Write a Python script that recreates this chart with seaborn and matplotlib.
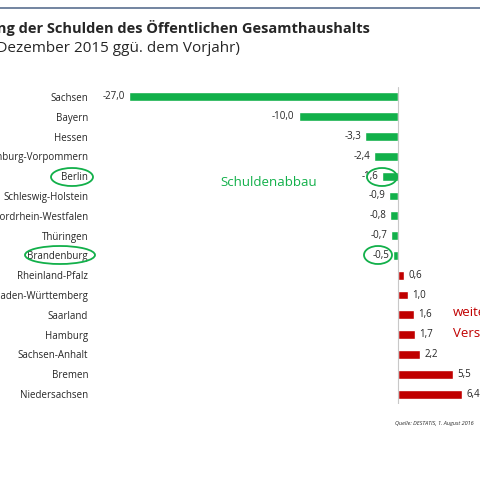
import matplotlib
matplotlib.use("Agg")
import matplotlib.pyplot as plt
from matplotlib.patches import Ellipse
import pandas as pd
import seaborn as sns

laender = ["Sachsen", "Bayern", "Hessen", "Mecklenburg-Vorpommern", "Berlin",
           "Schleswig-Holstein", "Nordrhein-Westfalen", "Thüringen", "Brandenburg",
           "Rheinland-Pfalz", "Baden-Württemberg", "Saarland", "Hamburg",
           "Sachsen-Anhalt", "Bremen", "Niedersachsen"]
werte = [-27.0, -10.0, -3.3, -2.4, -1.6, -0.9, -0.8, -0.7, -0.5,
         0.6, 1.0, 1.6, 1.7, 2.2, 5.5, 6.4]

GREEN = "#12b04a"
RED = "#c00000"

sns.set_style("white")
plt.rcParams["font.family"] = ["Open Sans", "DejaVu Sans"]

df = pd.DataFrame({"Land": laender, "Wert": werte})
farben = [GREEN if v < 0 else RED for v in werte]

fig = plt.figure(figsize=(4.8, 4.8), dpi=100)
ax = fig.add_axes([127 / 480, 1 - 404 / 480, 351 / 480, 317 / 480])
sns.barplot(data=df, x="Wert", y="Land", hue="Land", palette=farben,
            legend=False, width=0.45, ax=ax, saturation=1)
ax.set_xlim(-27.2, 8)
ax.set_xlabel("")
ax.set_ylabel("")
ax.set_xticks([])
for s in ["top", "right", "bottom", "left"]:
    ax.spines[s].set_visible(False)
ax.axvline(0, color="#c8c8c8", lw=0.8)
ax.tick_params(axis="y", length=0, pad=28, labelsize=7)

for i, v in enumerate(werte):
    txt = f"{v:.1f}".replace(".", ",")
    if v < 0:
        ax.text(v - 0.4, i, txt, ha="right", va="center", fontsize=7)
    else:
        ax.text(v + 0.4, i, txt, ha="left", va="center", fontsize=7)

# Rahmen / Titel
fig.add_artist(plt.Line2D([0, 1], [1 - 8 / 480] * 2, color="#5a7090", lw=1.2))
fig.text(370 / 480, 1 - 28 / 480, "Veränderung der Schulden des Öffentlichen Gesamthaushalts",
         ha="right", va="center", fontsize=10.5, fontweight="bold")
fig.text(240 / 480, 1 - 48 / 480, "(am 31. Dezember 2015 ggü. dem Vorjahr)",
         ha="right", va="center", fontsize=11)

fig.text(220 / 480, 1 - 183 / 480, "Schuldenabbau", color=GREEN, fontsize=9.5, va="center")
fig.text(453 / 480, 1 - 313 / 480, "weitere", color=RED, fontsize=9.5, va="center")
fig.text(453 / 480, 1 - 334 / 480, "Verschuldung", color=RED, fontsize=9.5, va="center")
fig.text(395 / 480, 1 - 424 / 480, "Quelle: DESTATIS, 1. August 2016",
         fontsize=4, style="italic", va="center")

for cx, cy, w, h in [(72, 177, 42, 18), (60, 255, 70, 18), (382, 177, 30, 18), (378, 255, 28, 18)]:
    fig.add_artist(Ellipse((cx / 480, 1 - cy / 480), w / 480, h / 480,
                           transform=fig.transFigure, fill=False, ec=GREEN, lw=1.3))

fig.savefig("out.png", dpi=100)
